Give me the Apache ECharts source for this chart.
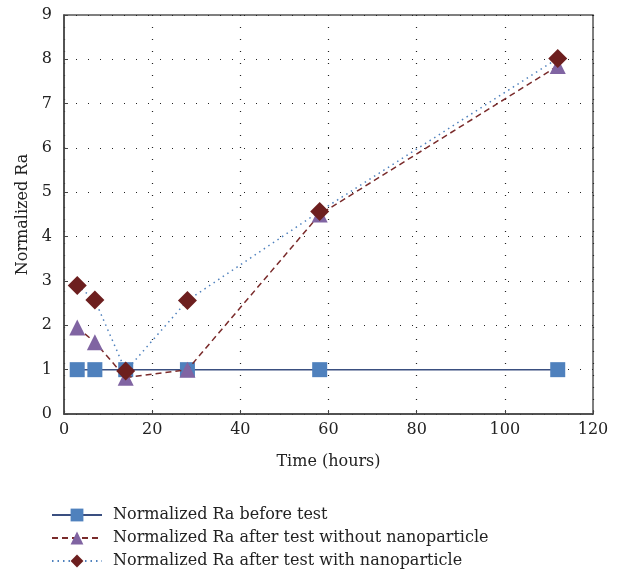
<!DOCTYPE html>
<html><head><meta charset="utf-8">
<script src="https://cdn.jsdelivr.net/npm/echarts@6/dist/echarts.min.js"></script>
<style>html,body{margin:0;padding:0;background:#fff}#c{width:620px;height:576px}</style>
</head><body><div id="c"></div>
<script>
const timeHours = [3, 7, 14, 28, 58, 112];
const raBefore = [1, 1, 1, 1, 1, 1];
const raWithout = [1.95, 1.62, 0.82, 1.0, 4.5, 7.85];
const raWith = [2.9, 2.57, 0.97, 2.56, 4.57, 8.02];
const seriesNames = ['Normalized Ra before test', 'Normalized Ra after test without nanoparticle', 'Normalized Ra after test with nanoparticle'];
const font = 'DejaVu Serif';
const pairs = ys => timeHours.map((x, i) => [x, ys[i]]);
const chart = echarts.init(document.getElementById('c'));
chart.setOption({
  animation: false,
  grid: {left: 64, right: 27, top: 15, bottom: 162, show: true, borderColor: '#555', borderWidth: 1.5},
  xAxis: {type: 'value', min: 0, max: 120, interval: 20, name: 'Time (hours)', nameLocation: 'middle', nameGap: 40,
    nameTextStyle: {fontFamily: font, fontSize: 16, color: '#222'},
    axisLine: {show: true, lineStyle: {color: '#444', width: 1.5}},
    axisTick: {show: true, inside: true, length: 4, lineStyle: {color: '#444'}},
    axisLabel: {fontFamily: font, fontSize: 16, color: '#222', margin: 8},
    splitLine: {show: true, lineStyle: {color: '#222', type: [1, 11], width: 1.2}}},
  yAxis: {type: 'value', min: 0, max: 9, interval: 1, name: 'Normalized Ra', nameLocation: 'middle', nameGap: 33,
    nameTextStyle: {fontFamily: font, fontSize: 16, color: '#222'},
    axisLine: {show: true, lineStyle: {color: '#444', width: 1.5}},
    axisTick: {show: true, inside: true, length: 4, lineStyle: {color: '#444'}},
    axisLabel: {fontFamily: font, fontSize: 16, color: '#222', margin: 12},
    splitLine: {show: true, lineStyle: {color: '#222', type: [1, 11], width: 1.2}}},
  legend: {orient: 'vertical', left: 46, top: 502, itemGap: 7, itemWidth: 50, itemHeight: 16,
    textStyle: {fontFamily: font, fontSize: 16, color: '#222', padding: [0, 0, 0, 6]}, data: seriesNames},
  series: [
    {name: seriesNames[0], type: 'line', data: pairs(raBefore), symbol: 'rect', symbolSize: 15,
      itemStyle: {color: '#4f81bd'}, lineStyle: {color: '#3a4f80', width: 1.5}, z: 3},
    {name: seriesNames[1], type: 'line', data: pairs(raWithout), symbol: 'triangle', symbolSize: 16,
      itemStyle: {color: '#8064a2'}, lineStyle: {color: '#7a2b2b', width: 1.5, type: [6, 4]}, z: 4},
    {name: seriesNames[2], type: 'line', data: pairs(raWith), symbol: 'diamond', symbolSize: 19,
      itemStyle: {color: '#6d1f1f'}, lineStyle: {color: '#4f81bd', width: 1.5, type: [1.5, 4]}, z: 5}
  ]
});
</script></body></html>
